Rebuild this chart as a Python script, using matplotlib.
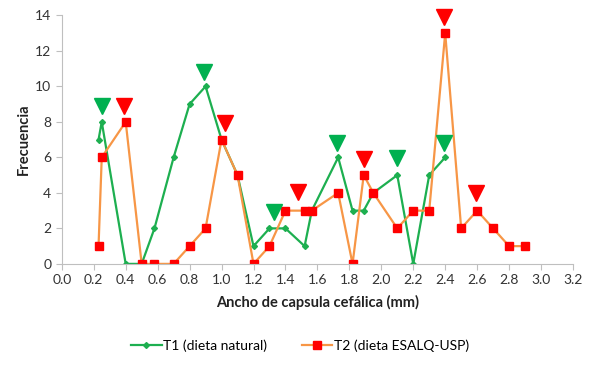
import matplotlib
matplotlib.use("Agg")
import matplotlib.pyplot as plt

plt.rcParams['font.family'] = ['Lato', 'DejaVu Sans']

# T1 (dieta natural)
t1_x = [0.23, 0.25, 0.40, 0.50, 0.58, 0.70, 0.80, 0.90, 1.00, 1.10, 1.20, 1.30,
        1.40, 1.52, 1.565, 1.73, 1.82, 1.89, 1.95, 2.10, 2.20, 2.30, 2.40]
t1_y = [7, 8, 0, 0, 2, 6, 9, 10, 7, 5, 1, 2, 2, 1, 3, 6, 3, 3, 4, 5, 0, 5, 6]

# T2 (dieta ESALQ-USP)
t2_x = [0.23, 0.25, 0.40, 0.50, 0.58, 0.70, 0.80, 0.90, 1.00, 1.10, 1.20, 1.30,
        1.40, 1.52, 1.565, 1.73, 1.82, 1.89, 1.95, 2.10, 2.20, 2.30, 2.40, 2.50,
        2.60, 2.70, 2.80, 2.90]
t2_y = [1, 6, 8, 0, 0, 0, 1, 2, 7, 5, 0, 1, 3, 3, 3, 4, 0, 5, 4, 2, 3, 3, 13, 2,
        3, 2, 1, 1]

# peak markers (triangles)
peak1_x = [0.25, 0.89, 1.33, 1.72, 2.10, 2.39]
peak1_y = [8.9, 10.8, 2.9, 6.8, 5.95, 6.8]
peak2_x = [0.39, 1.02, 1.48, 1.89, 2.39, 2.59]
peak2_y = [8.9, 7.95, 4.05, 5.9, 13.9, 4.0]

green = '#1DAF50'
orange = '#F79646'
red = '#FF0000'

fig = plt.figure(figsize=(6.0, 3.66), dpi=100)
ax = fig.add_axes([0.103, 0.279, 0.852, 0.679])

ax.plot(t1_x, t1_y, color=green, lw=1.6, marker='D', ms=3,
        mfc=green, mec=green, label='T1 (dieta natural)')
ax.plot(t2_x, t2_y, color=orange, lw=1.6, marker='s', ms=5.5,
        mfc=red, mec=red, label='T2 (dieta ESALQ-USP)')

ax.plot(peak1_x, peak1_y, ls='', marker='v', ms=12, color='#00B050', clip_on=False)
ax.plot(peak2_x, peak2_y, ls='', marker='v', ms=12, color=red, clip_on=False)

ax.set_xlim(0, 3.2)
ax.set_ylim(0, 14)
ax.set_xticks([i * 0.2 for i in range(17)])
ax.set_xticklabels(['%.1f' % (i * 0.2) for i in range(17)])
ax.set_yticks(range(0, 15, 2))

for s in ['top', 'right']:
    ax.spines[s].set_visible(False)
for s in ['left', 'bottom']:
    ax.spines[s].set_color('#BFBFBF')
ax.tick_params(colors='#BFBFBF', labelcolor='#333333', labelsize=10, length=4)

ax.set_xlabel('Ancho de capsula cefálica (mm)', fontsize=10.5,
              fontweight='bold', color='#222222', labelpad=6)
ax.set_ylabel('Frecuencia', fontsize=10.5, fontweight='bold',
              color='#222222', labelpad=3)

fig.legend(loc='center', bbox_to_anchor=(0.5, 0.055), ncol=2, frameon=False,
           fontsize=10, handlelength=2.2, columnspacing=2.5, handletextpad=0.1)

fig.savefig('out.png', dpi=100)
